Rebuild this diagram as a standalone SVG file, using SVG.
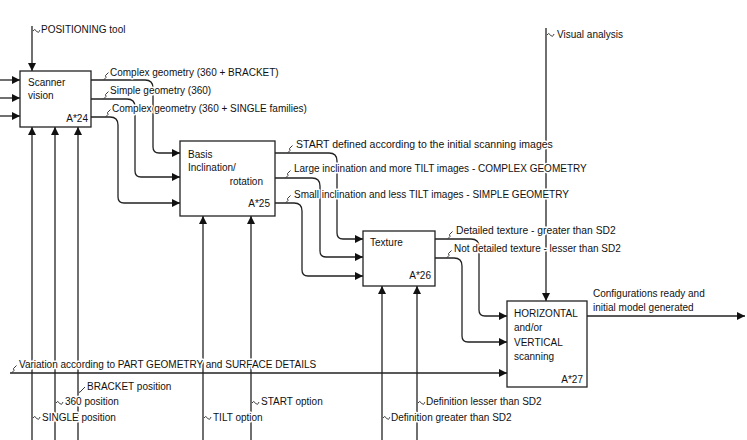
<svg xmlns="http://www.w3.org/2000/svg" width="747" height="440" viewBox="0 0 747 440">
<style>
.box{fill:#fff;stroke:#222;stroke-width:1.3}
.ln{fill:none;stroke:#222;stroke-width:1.3}
.sq{fill:none;stroke:#222;stroke-width:0.9}
text{font-family:"Liberation Sans",Arial,sans-serif;font-size:10px;fill:#111}
.lb{stroke:#fff;stroke-width:3;paint-order:stroke;stroke-linejoin:round}
.r{text-anchor:end}
</style>
<defs>
<marker id="ah" markerUnits="userSpaceOnUse" markerWidth="8" markerHeight="8" refX="8" refY="4" orient="auto">
<path d="M0,0 L8,4 L0,8 z" fill="#111"/>
</marker>
</defs>
<rect width="747" height="440" fill="#fff"/>
<g id="connectors">
<path class="ln" marker-end="url(#ah)" d="M0,80 H20"/>
<path class="ln" marker-end="url(#ah)" d="M0,98 H20"/>
<path class="ln" marker-end="url(#ah)" d="M0,116 H20"/>
<path class="ln" marker-end="url(#ah)" d="M32,26 V71"/>
<path class="ln" marker-end="url(#ah)" d="M32,440 V127"/>
<path class="ln" marker-end="url(#ah)" d="M55,440 V127"/>
<path class="ln" marker-end="url(#ah)" d="M78,440 V127"/>
<path class="ln" marker-end="url(#ah)" d="M91,80 H145 Q153,80 153,88 V147 Q153,153 159,153 H180"/>
<path class="ln" marker-end="url(#ah)" d="M91,99 H127 Q135,99 135,107 V171 Q135,177 141,177 H180"/>
<path class="ln" marker-end="url(#ah)" d="M91,117 H110 Q118,117 118,125 V197 Q118,203 124,203 H180"/>
<path class="ln" marker-end="url(#ah)" d="M203,440 V216"/>
<path class="ln" marker-end="url(#ah)" d="M251,440 V216"/>
<path class="ln" marker-end="url(#ah)" d="M275,153 H329 Q337,153 337,161 V233 Q337,239 343,239 H363"/>
<path class="ln" marker-end="url(#ah)" d="M275,178 H312 Q320,178 320,186 V251 Q320,257 326,257 H363"/>
<path class="ln" marker-end="url(#ah)" d="M275,203 H294 Q302,203 302,211 V270 Q302,276 308,276 H363"/>
<path class="ln" marker-end="url(#ah)" d="M382,440 V286"/>
<path class="ln" marker-end="url(#ah)" d="M417,440 V286"/>
<path class="ln" marker-end="url(#ah)" d="M435,239 H471 Q479,239 479,247 V310 Q479,316 485,316 H507"/>
<path class="ln" marker-end="url(#ah)" d="M435,258 H454 Q462,258 462,266 V336 Q462,342 468,342 H507"/>
<path class="ln" marker-end="url(#ah)" d="M546,28 V301"/>
<path class="ln" marker-end="url(#ah)" d="M10,373 H507"/>
<path class="ln" marker-end="url(#ah)" d="M587,316 H745"/>
<g id="squiggles">
<path class="sq" d="M33,31 q1.5,-3 3.5,0 t3.5,-1"/>
<path class="sq" d="M104,79.5 l2,-2 l-0.5,-2 l3,-3"/>
<path class="sq" d="M104,98.5 l2,-2 l-0.5,-2 l3,-3"/>
<path class="sq" d="M106,116.5 l2,-2 l-0.5,-2 l3,-3"/>
<path class="sq" d="M288,152.5 l2,-2 l-0.5,-2 l3,-3"/>
<path class="sq" d="M286,177.5 l2,-2 l-0.5,-2 l3,-3"/>
<path class="sq" d="M286,202.5 l2,-2 l-0.5,-2 l3,-3"/>
<path class="sq" d="M448,238.5 l2,-2 l-0.5,-2 l3,-3"/>
<path class="sq" d="M447,257.5 l2,-2 l-0.5,-2 l3,-3"/>
<path class="sq" d="M547,35 q1.5,-3 3.5,0 t3.5,-1"/>
<path class="sq" d="M12,372.5 l2,-2 l-0.5,-2 l3,-3"/>
<path class="sq" d="M79,392 q1,1 2,-1 l4,-4"/>
<path class="sq" d="M56,403 q1.5,-3 3.5,0 t3.5,-1"/>
<path class="sq" d="M33,418 q1.5,-3 3.5,0 t3.5,-1"/>
<path class="sq" d="M204,418 q1.5,-3 3.5,0 t3.5,-1"/>
<path class="sq" d="M252,403 q1.5,-3 3.5,0 t3.5,-1"/>
<path class="sq" d="M418,403 q1.5,-3 3.5,0 t3.5,-1"/>
<path class="sq" d="M383,418 q1.5,-3 3.5,0 t3.5,-1"/>
</g>
</g>
<g id="labels">
<text class="lb" x="41" y="33">POSITIONING tool</text>
<text class="lb" x="110" y="75.5">Complex geometry (360 + BRACKET)</text>
<text class="lb" x="110" y="93.5">Simple geometry (360)</text>
<text class="lb" x="112" y="112">Complex geometry (360 + SINGLE families)</text>
<text class="lb" x="296" y="148" style="font-size:10.5px">START defined according to the initial scanning images</text>
<text class="lb" x="294" y="172">Large inclination and more TILT images - COMPLEX GEOMETRY</text>
<text class="lb" x="294" y="197.5">Small inclination and less TILT images - SIMPLE GEOMETRY</text>
<text class="lb" x="456" y="234" style="font-size:10.3px">Detailed texture - greater than SD2</text>
<text class="lb" x="454" y="252">Not detailed texture - lesser than SD2</text>
<text class="lb" x="557" y="38">Visual analysis</text>
<text class="lb" x="593" y="297">Configurations ready and</text>
<text class="lb" x="593" y="311">initial model generated</text>
<text class="lb" x="19" y="368">Variation according to PART GEOMETRY and SURFACE DETAILS</text>
<text class="lb" x="87" y="390">BRACKET position</text>
<text class="lb" x="65" y="405">360 position</text>
<text class="lb" x="42" y="421">SINGLE position</text>
<text class="lb" x="213" y="421">TILT option</text>
<text class="lb" x="261" y="405">START option</text>
<text class="lb" x="426" y="405">Definition lesser than SD2</text>
<text class="lb" x="391" y="421">Definition greater than SD2</text>
</g>
<g id="A24">
<rect class="box" x="20" y="71" width="71" height="56"/>
<text x="28" y="86">Scanner</text>
<text x="28" y="99">vision</text>
<text class="r" x="88" y="122">A*24</text>
</g>
<g id="A25">
<rect class="box" x="180" y="141" width="95" height="75"/>
<text x="188" y="158">Basis</text>
<text x="188" y="171">Inclination/</text>
<text class="r" x="263" y="185">rotation</text>
<text class="r" x="270" y="207">A*25</text>
</g>
<g id="A26">
<rect class="box" x="363" y="231" width="72" height="55"/>
<text x="370" y="246">Texture</text>
<text class="r" x="431" y="279">A*26</text>
</g>
<g id="A27">
<rect class="box" x="507" y="301" width="80" height="86"/>
<text x="514" y="317">HORIZONTAL</text>
<text x="514" y="331">and/or</text>
<text x="514" y="346">VERTICAL</text>
<text x="514" y="360">scanning</text>
<text class="r" x="583" y="383">A*27</text>
</g>
</svg>
